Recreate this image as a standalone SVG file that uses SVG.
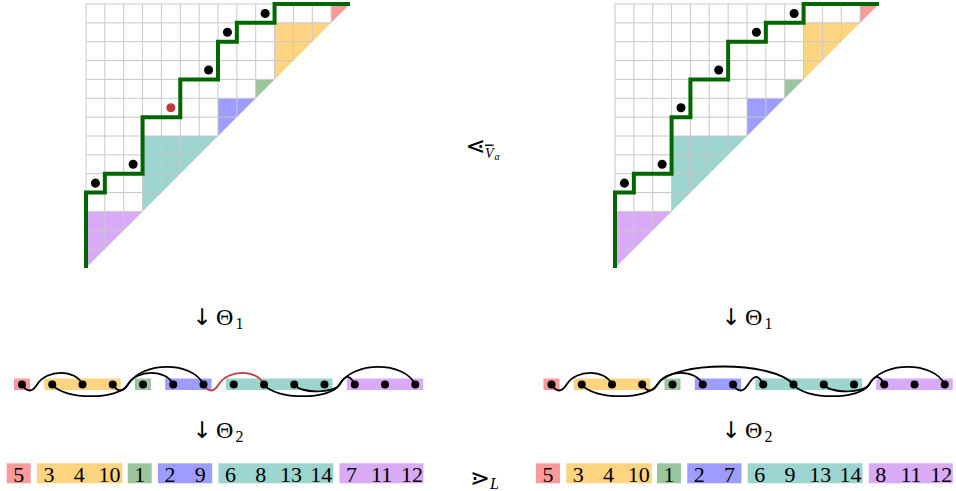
<svg xmlns="http://www.w3.org/2000/svg" width="956" height="491" viewBox="0 0 956 491">
<style>
.grid{fill:none;stroke:#c8c8c8;stroke-width:1;vector-effect:non-scaling-stroke}
.dyck{fill:none;stroke:#006600;stroke-width:4;vector-effect:non-scaling-stroke;stroke-linejoin:miter;stroke-linecap:butt}
.pk{fill:#f99b9b}.or{fill:#ffd480}.gr{fill:#9dc59d}.bl{fill:#9d9dff}.tl{fill:#9cd4d0}.pu{fill:#d9aaf6}
.arc{fill:none;stroke:#000;stroke-width:1.8}
.arc.red{stroke:#c03c3c}
.dot{fill:#000}
.rdot{fill:#c03c3c}
.t{font-family:"Liberation Serif","DejaVu Serif",serif;font-size:24px;fill:#000}
.ar{font-family:"DejaVu Sans",sans-serif;font-size:23px;fill:#000;text-anchor:middle}
.n{font-family:"Liberation Serif","DejaVu Serif",serif;font-size:22px;fill:#000;text-anchor:middle}
.sub{font-family:"Liberation Serif","DejaVu Serif",serif;font-size:16px;fill:#000}
.sym{font-family:"DejaVu Sans",sans-serif;fill:#000}
</style>
<defs>
<g id="stair">
<polygon class="pk" points="13,0 14,0 13,1"/>
<polygon class="or" points="10,1 13,1 10,4"/>
<polygon class="gr" points="9,4 10,4 9,5"/>
<polygon class="bl" points="7,5 9,5 7,7"/>
<polygon class="tl" points="3,7 7,7 3,11"/>
<polygon class="pu" points="0,11 3,11 0,14"/>
<path class="grid" d="M0 0H14M0 1H13M0 2H12M0 3H11M0 4H10M0 5H9M0 6H8M0 7H7M0 8H6M0 9H5M0 10H4M0 11H3M0 12H2M0 13H1M0 0V14M1 0V13M2 0V12M3 0V11M4 0V10M5 0V9M6 0V8M7 0V7M8 0V6M9 0V5M10 0V4M11 0V3M12 0V2M13 0V1"/>
</g>
</defs>

<g id="staircase-left" transform="translate(86 4) scale(18.857143)">
<use href="#stair"/>
<path class="dyck" d="M0 14V10H1V9H3V6H5V4H7V2H8V1H10V0H14"/>
<circle class="dot" cx="0.5" cy="9.5" r="0.24"/>
<circle class="dot" cx="2.5" cy="8.5" r="0.24"/>
<circle class="rdot" cx="4.5" cy="5.5" r="0.24"/>
<circle class="dot" cx="6.5" cy="3.5" r="0.24"/>
<circle class="dot" cx="7.5" cy="1.5" r="0.24"/>
<circle class="dot" cx="9.5" cy="0.5" r="0.24"/>
</g>

<g id="staircase-right" transform="translate(615 4) scale(18.857143)">
<use href="#stair"/>
<path class="dyck" d="M0 14V10H1V9H3V6H4V4H6V2H8V1H10V0H14"/>
<circle class="dot" cx="0.5" cy="9.5" r="0.24"/>
<circle class="dot" cx="2.5" cy="8.5" r="0.24"/>
<circle class="dot" cx="3.5" cy="5.5" r="0.24"/>
<circle class="dot" cx="5.5" cy="3.5" r="0.24"/>
<circle class="dot" cx="7.5" cy="1.5" r="0.24"/>
<circle class="dot" cx="9.5" cy="0.5" r="0.24"/>
</g>

<g id="relation-top">
<text class="sym" x="475.5" y="154" font-size="24" text-anchor="middle">⋖</text>
<text x="485" y="157.5" font-family="Liberation Serif, serif" font-style="italic" font-size="14" text-decoration="overline">V</text>
<text x="494.5" y="160" font-family="Liberation Serif, serif" font-style="italic" font-size="10">α</text>
</g>

<g id="theta1-left">
<text class="ar" x="202" y="325">↓</text>
<text class="t" x="216" y="325">Θ</text>
<text class="sub" x="235.5" y="329">1</text>
</g>
<g id="theta1-right">
<text class="ar" x="731" y="325">↓</text>
<text class="t" x="745" y="325">Θ</text>
<text class="sub" x="764.5" y="329">1</text>
</g>

<g id="arcdiagram-left">
<rect class="pk" x="14" y="378.5" width="16" height="11.5"/>
<rect class="or" x="44.25" y="378.5" width="76.5" height="11.5"/>
<rect class="gr" x="135" y="378.5" width="16" height="11.5"/>
<rect class="bl" x="165.25" y="378.5" width="46.25" height="11.5"/>
<rect class="tl" x="225.75" y="378.5" width="106.75" height="11.5"/>
<rect class="pu" x="346.75" y="378.5" width="76.5" height="11.5"/>
</g>

<g id="arcdiagram-right">
<rect class="pk" x="543.5" y="378.5" width="16" height="11.5"/>
<rect class="or" x="573.75" y="378.5" width="76.5" height="11.5"/>
<rect class="gr" x="664.5" y="378.5" width="16" height="11.5"/>
<rect class="bl" x="694.75" y="378.5" width="46.25" height="11.5"/>
<rect class="tl" x="755.25" y="378.5" width="106.75" height="11.5"/>
<rect class="pu" x="876.25" y="378.5" width="76.5" height="11.5"/>
</g>

<g id="connectors">
<path class="arc" d="M22 384.5C27 392.5 32.1 392.5 37.1 384.5C46.8 369 75.7 369 82.5 384.5"/>
<path class="arc" d="M52.25 384.5C63.6 400.1 118.8 400.1 127.9 384.5C136.9 369 166.4 369 173.25 384.5"/>
<path class="arc" d="M112.75 384.5C117.75 392.5 122.9 392.5 127.9 384.5C142.5 361 192.2 361 203.5 384.5"/>
<path class="arc red" d="M203.5 384.5C208.5 392.5 213.6 392.5 218.6 384.5C228.3 369 257.2 369 264 384.5"/>
<path class="arc" d="M264 384.5C275.3 400.1 330.5 400.1 339.6 384.5C345.5 374.4 349.75 374.4 354.75 384.5"/>
<path class="arc" d="M294.25 384.5C301 393.8 334.2 393.8 339.6 384.5C353.2 361 403.9 361 415.25 384.5"/>

<path class="arc" d="M551.5 384.5C556.5 392.5 561.6 392.5 566.6 384.5C576.3 369 605.2 369 612 384.5"/>
<path class="arc" d="M581.75 384.5C593.1 400.1 648.3 400.1 657.4 384.5C666.4 369 695.9 369 702.75 384.5"/>
<path class="arc" d="M642.25 384.5C647.25 392.5 652.4 392.5 657.4 384.5C672.4 360.5 773.1 360.5 793.5 384.5"/>
<path class="arc" d="M733 384.5C738 392.5 743.1 392.5 748.1 384.5C754.5 374.4 758.25 374.4 763.25 384.5"/>
<path class="arc" d="M793.5 384.5C804.8 400.1 860 400.1 869.1 384.5C875 374.4 879.25 374.4 884.25 384.5"/>
<path class="arc" d="M823.75 384.5C830.5 393.8 863.7 393.8 869.1 384.5C882.7 361 933.4 361 944.75 384.5"/>
</g>

<g id="arcdots">
<circle class="dot" cx="22" cy="384.5" r="4"/><circle class="dot" cx="52.25" cy="384.5" r="4"/><circle class="dot" cx="82.5" cy="384.5" r="4"/><circle class="dot" cx="112.75" cy="384.5" r="4"/><circle class="dot" cx="143" cy="384.5" r="4"/><circle class="dot" cx="173.25" cy="384.5" r="4"/><circle class="dot" cx="203.5" cy="384.5" r="4"/><circle class="dot" cx="233.75" cy="384.5" r="4"/><circle class="dot" cx="264" cy="384.5" r="4"/><circle class="dot" cx="294.25" cy="384.5" r="4"/><circle class="dot" cx="324.5" cy="384.5" r="4"/><circle class="dot" cx="354.75" cy="384.5" r="4"/><circle class="dot" cx="385" cy="384.5" r="4"/><circle class="dot" cx="415.25" cy="384.5" r="4"/>
<circle class="dot" cx="551.5" cy="384.5" r="4"/><circle class="dot" cx="581.75" cy="384.5" r="4"/><circle class="dot" cx="612" cy="384.5" r="4"/><circle class="dot" cx="642.25" cy="384.5" r="4"/><circle class="dot" cx="672.5" cy="384.5" r="4"/><circle class="dot" cx="702.75" cy="384.5" r="4"/><circle class="dot" cx="733" cy="384.5" r="4"/><circle class="dot" cx="763.25" cy="384.5" r="4"/><circle class="dot" cx="793.5" cy="384.5" r="4"/><circle class="dot" cx="823.75" cy="384.5" r="4"/><circle class="dot" cx="854" cy="384.5" r="4"/><circle class="dot" cx="884.25" cy="384.5" r="4"/><circle class="dot" cx="914.5" cy="384.5" r="4"/><circle class="dot" cx="944.75" cy="384.5" r="4"/>
</g>

<g id="theta2-left">
<text class="ar" x="202" y="438">↓</text>
<text class="t" x="216" y="438">Θ</text>
<text class="sub" x="235.5" y="442">2</text>
</g>
<g id="theta2-right">
<text class="ar" x="731" y="438">↓</text>
<text class="t" x="745" y="438">Θ</text>
<text class="sub" x="764.5" y="442">2</text>
</g>

<g id="labels-left">
<rect class="pk" x="6.7" y="463.3" width="24" height="20"/>
<rect class="or" x="36.95" y="463.3" width="85.35" height="20"/>
<rect class="gr" x="127.7" y="463.3" width="24" height="20"/>
<rect class="bl" x="157.95" y="463.3" width="54.25" height="20"/>
<rect class="tl" x="218.45" y="463.3" width="114.85" height="20"/>
<rect class="pu" x="339.45" y="463.3" width="84.05" height="20"/>
<text class="n" x="18.7" y="481.5">5</text>
<text class="n" x="48.95" y="481.5">3</text>
<text class="n" x="79.2" y="481.5">4</text>
<text class="n" x="109.45" y="481.5">10</text>
<text class="n" x="139.7" y="481.5">1</text>
<text class="n" x="169.95" y="481.5">2</text>
<text class="n" x="200.2" y="481.5">9</text>
<text class="n" x="230.45" y="481.5">6</text>
<text class="n" x="260.7" y="481.5">8</text>
<text class="n" x="290.95" y="481.5">13</text>
<text class="n" x="321.2" y="481.5">14</text>
<text class="n" x="351.45" y="481.5">7</text>
<text class="n" x="381.7" y="481.5">11</text>
<text class="n" x="411.95" y="481.5">12</text>
</g>

<g id="relation-bottom">
<text class="sym" x="480" y="486" font-size="24" text-anchor="middle">⋗</text>
<text x="490" y="489" font-family="Liberation Serif, serif" font-style="italic" font-size="16">L</text>
</g>

<g id="labels-right">
<rect class="pk" x="536" y="463.3" width="24" height="20"/>
<rect class="or" x="566.25" y="463.3" width="85.35" height="20"/>
<rect class="gr" x="657" y="463.3" width="24" height="20"/>
<rect class="bl" x="687.25" y="463.3" width="54.25" height="20"/>
<rect class="tl" x="747.75" y="463.3" width="114.85" height="20"/>
<rect class="pu" x="868.75" y="463.3" width="84.05" height="20"/>
<text class="n" x="548" y="481.5">5</text>
<text class="n" x="578.25" y="481.5">3</text>
<text class="n" x="608.5" y="481.5">4</text>
<text class="n" x="638.75" y="481.5">10</text>
<text class="n" x="669" y="481.5">1</text>
<text class="n" x="699.25" y="481.5">2</text>
<text class="n" x="729.5" y="481.5">7</text>
<text class="n" x="759.75" y="481.5">6</text>
<text class="n" x="790" y="481.5">9</text>
<text class="n" x="820.25" y="481.5">13</text>
<text class="n" x="850.5" y="481.5">14</text>
<text class="n" x="880.75" y="481.5">8</text>
<text class="n" x="911" y="481.5">11</text>
<text class="n" x="941.25" y="481.5">12</text>
</g>
</svg>
